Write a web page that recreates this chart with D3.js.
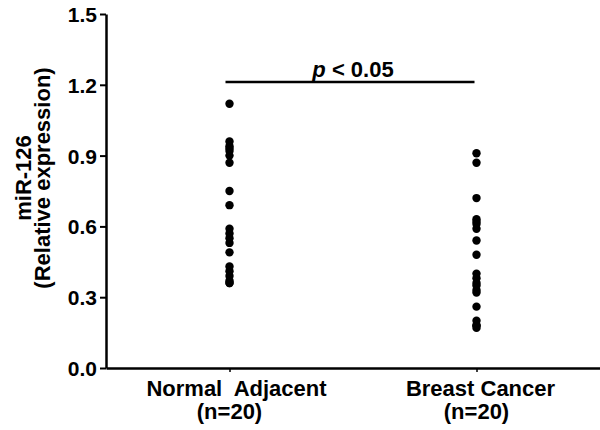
<!DOCTYPE html>
<html><head><meta charset="utf-8">
<script src="https://cdn.jsdelivr.net/npm/d3@7"></script>
<style>body{margin:0;background:#fff}svg{display:block}text{font-family:Arial,"Liberation Sans",sans-serif;font-weight:bold;fill:#000}</style>
</head><body>
<script>
const categories = ["Normal  Adjacent", "Breast Cancer"];
const subLabels = ["(n=20)", "(n=20)"];
const normalValues = [1.12, 0.96, 0.94, 0.93, 0.92, 0.90, 0.87, 0.75, 0.69, 0.59, 0.57, 0.55, 0.53, 0.49, 0.43, 0.41, 0.39, 0.37, 0.36, 0.36];
const cancerValues = [0.91, 0.87, 0.72, 0.63, 0.62, 0.61, 0.59, 0.54, 0.48, 0.40, 0.38, 0.36, 0.35, 0.33, 0.32, 0.26, 0.20, 0.18, 0.18, 0.17];
const yTicks = [0.0, 0.3, 0.6, 0.9, 1.2, 1.5];
const yLabelLines = ["miR-126", "(Relative expression)"];
const sigText = "< 0.05";

const W = 600, H = 430;
const svg = d3.select("body").append("svg").attr("width", W).attr("height", H);

const x = d3.scalePoint().domain(categories).range([106, 600]).padding(0.5);
const y = d3.scaleLinear().domain([0, 1.5]).range([368, 14]);

// Y axis
const gy = svg.append("g").attr("transform", "translate(106,0)")
  .call(d3.axisLeft(y).tickValues(yTicks).tickFormat(d3.format(".1f")).tickSize(6).tickSizeOuter(0));
gy.select(".domain").attr("stroke", "#000").attr("stroke-width", 2.5);
gy.selectAll(".tick line").attr("stroke", "#000").attr("stroke-width", 2);
gy.selectAll(".tick text").attr("x", -9).attr("dy", "0.36em").style("font-size", "21px").style("font-family", "Arial, 'Liberation Sans', sans-serif").style("font-weight", "bold");

// X axis
const gx = svg.append("g").attr("transform", "translate(0,368)")
  .call(d3.axisBottom(x).tickSize(4).tickSizeOuter(0).tickFormat(""));
gx.select(".domain").attr("stroke", "#000").attr("stroke-width", 2.5);
gx.selectAll(".tick line").attr("stroke", "#000").attr("stroke-width", 1.5);

// x labels
const xl = svg.append("g");
categories.forEach((c, i) => {
  xl.append("text").attr("x", x(c) + (i === 0 ? 7 : 4)).attr("y", 396)
    .attr("text-anchor", "middle").style("font-size", "22px").style("white-space", "pre").text(c);
  xl.append("text").attr("x", x(c)).attr("y", 419)
    .attr("text-anchor", "middle").style("font-size", "22px").text(subLabels[i]);
});

// Y label
const yl = svg.append("g").attr("transform", "translate(31,178) rotate(-90)");
yl.append("text").attr("text-anchor", "middle").style("font-size", "22px").text(yLabelLines[0]);
yl.append("text").attr("y", 19).attr("text-anchor", "middle").style("font-size", "22px").text(yLabelLines[1]);

// dots
const series = [normalValues, cancerValues];
series.forEach((vals, i) => {
  svg.append("g").selectAll("circle").data(vals).join("circle")
    .attr("cx", x(categories[i])).attr("cy", d => y(d)).attr("r", 4.2).attr("fill", "#000");
});

// significance bar
svg.append("line").attr("x1", x(categories[0]) - 4).attr("x2", x(categories[1]) - 2)
  .attr("y1", 82).attr("y2", 82).attr("stroke", "#000").attr("stroke-width", 2.5);
const st = svg.append("text").attr("x", 353).attr("y", 77).attr("text-anchor", "middle").style("font-size", "22px");
st.append("tspan").style("font-style", "italic").text("p");
st.append("tspan").text(" " + sigText);
</script>
</body></html>
